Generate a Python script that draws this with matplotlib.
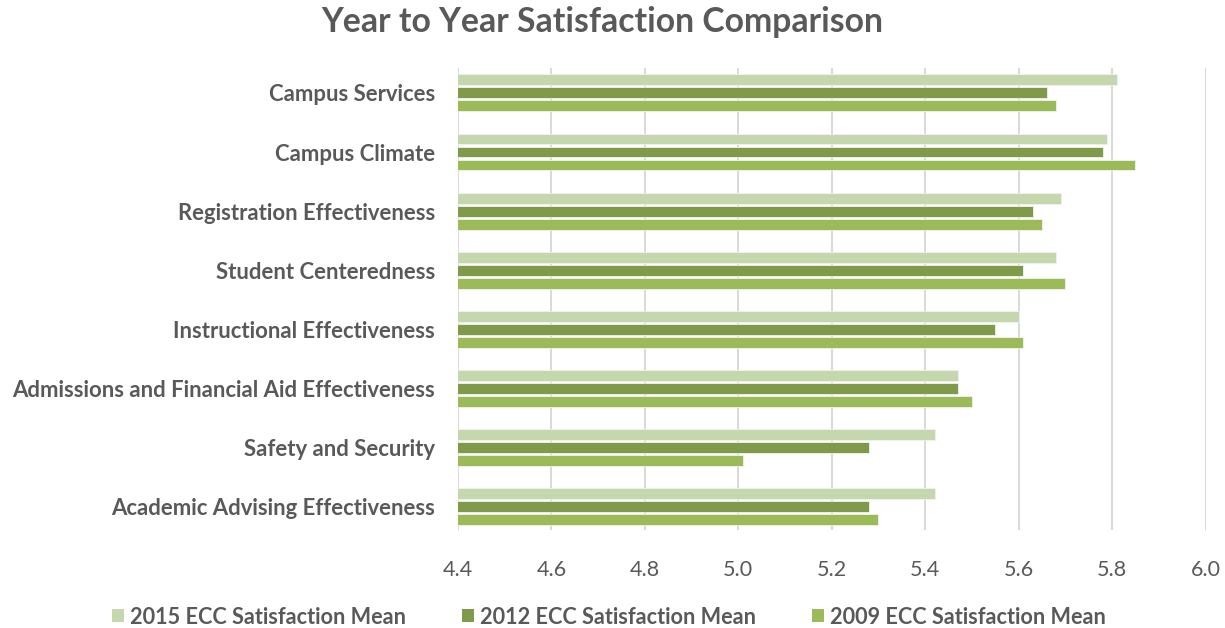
import matplotlib
matplotlib.use("Agg")
import matplotlib.pyplot as plt
import numpy as np
from matplotlib.patches import Patch

categories = [
    "Campus Services",
    "Campus Climate",
    "Registration Effectiveness",
    "Student Centeredness",
    "Instructional Effectiveness",
    "Admissions and Financial Aid Effectiveness",
    "Safety and Security",
    "Academic Advising Effectiveness",
]
series_names = ["2015 ECC Satisfaction Mean", "2012 ECC Satisfaction Mean", "2009 ECC Satisfaction Mean"]
mean_2015 = [5.81, 5.79, 5.69, 5.68, 5.60, 5.47, 5.42, 5.42]
mean_2012 = [5.66, 5.78, 5.63, 5.61, 5.55, 5.47, 5.28, 5.28]
mean_2009 = [5.68, 5.85, 5.65, 5.70, 5.61, 5.50, 5.01, 5.30]
x_ticks = [4.4, 4.6, 4.8, 5.0, 5.2, 5.4, 5.6, 5.8, 6.0]
x_tick_labels = ["4.4", "4.6", "4.8", "5.0", "5.2", "5.4", "5.6", "5.8", "6.0"]
title = "Year to Year Satisfaction Comparison"

colors = ["#C5D7AD", "#7F9A48", "#9BBB59"]
text_color = "#595959"
FONT = ["Lato", "DejaVu Sans"]
plt.rcParams["font.family"] = FONT

W, H = 1225, 628
fig = plt.figure(figsize=(W / 100, H / 100), dpi=100)
renderer = fig.canvas.get_renderer()


def measure(text, size, weight="normal"):
    t = fig.text(0, 0, text, fontsize=size, fontweight=weight)
    w = t.get_window_extent(renderer).width
    t.remove()
    return w


def fit_size(text, target_px, weight="normal"):
    return 20 * target_px / measure(text, 20, weight)


ax_left, ax_right, ax_top, ax_bottom = 458, 1205.5, 68, 530
ax = fig.add_axes([ax_left / W, 1 - ax_bottom / H, (ax_right - ax_left) / W, (ax_bottom - ax_top) / H])

series = [mean_2015, mean_2012, mean_2009]
offsets = [-0.22, 0.0, 0.22]
ypos = np.arange(len(categories))
for vals, off, col, name in zip(series, offsets, colors, series_names):
    ax.barh(ypos + off, vals, height=0.185, color=col, edgecolor="#F2F2F2", linewidth=0.6, label=name)

ax.set_xlim(x_ticks[0], x_ticks[-1])
ax.set_ylim(7.39, -0.42)
ax.set_axisbelow(True)
ax.xaxis.grid(True, color="#D9D9D9", linewidth=1.4)
for s in ax.spines.values():
    s.set_visible(False)

cat_size = fit_size(categories[5], 424, "bold")
tick_size = fit_size("4.4", 30)

ax.set_yticks(ypos)
ax.set_yticklabels(categories, fontsize=cat_size, fontweight="bold", color=text_color)
ax.set_xticks(x_ticks)
ax.set_xticklabels(x_tick_labels, fontsize=tick_size, color=text_color)
ax.tick_params(axis="y", length=0, pad=23 * 0.72)
ax.tick_params(axis="x", length=0, pad=30 * 0.72)

title_size = fit_size(title, 562, "bold")
fig.text(602 / W, 1 - 32 / H, title, fontsize=title_size, fontweight="bold", color=text_color,
         ha="center", va="baseline")

leg_size = fit_size(series_names[0], 276, "bold")
fs_px = leg_size / 0.72
handles = [Patch(facecolor=c, edgecolor="none") for c in colors]
leg = fig.legend(handles, series_names, loc="center", bbox_to_anchor=(608.5 / W, 1 - 617 / H), ncol=3,
                 frameon=False, handlelength=12 / fs_px, handleheight=12 / fs_px,
                 handletextpad=6 / fs_px, columnspacing=56 / fs_px,
                 prop={"size": leg_size, "weight": "bold"})
for t in leg.get_texts():
    t.set_color(text_color)

fig.savefig("out.png", dpi=100)
